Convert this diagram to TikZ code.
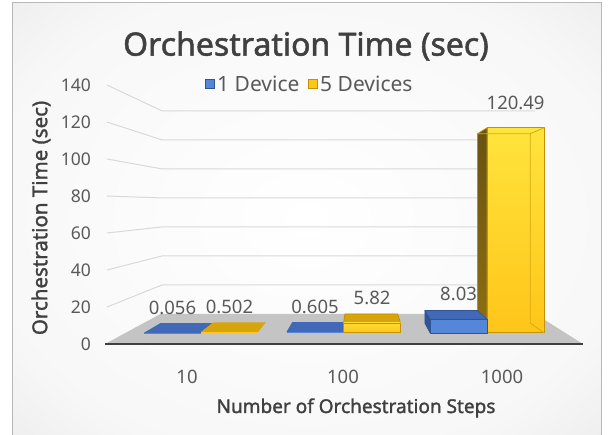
\documentclass[tikz,border=0pt]{standalone}
\usepackage{fontspec}
\setmainfont{Noto Sans}
\newfontfamily\headfont{Noto Sans}[FakeBold=1.6]
\usetikzlibrary{calc}

\definecolor{txtgray}{HTML}{595959}
\definecolor{titlegray}{HTML}{404040}
\definecolor{gridgray}{HTML}{D9D9D9}
\definecolor{floorgray}{HTML}{C4C4C4}
\definecolor{bluetop}{HTML}{4169B8}
\definecolor{bluefront}{HTML}{5686D8}
\definecolor{blueside}{HTML}{2E5597}
\definecolor{blueedge}{HTML}{2F5597}
\definecolor{goldtop}{HTML}{D8A40C}
\definecolor{goldfronttop}{HTML}{FFE43C}
\definecolor{goldfrontbot}{HTML}{FFC519}
\definecolor{goldside}{HTML}{7A6115}
\definecolor{goldedge}{HTML}{C39200}

\pgfdeclareradialshading{framebg}{\pgfpoint{0bp}{0bp}}{%
  color(0bp)=(white); color(28bp)=(white!97!black);
  color(50bp)=(black!13); color(72bp)=(black!20)}

% perspective: depth factors of column front/back and of the back wall
\def\kf{0.92}
\def\kb{0.85}
\def\kw{0.784}

% corner coordinates of one column: name, left X, right X, value
\newcommand\defcolumn[4]{%
  \coordinate (#1-flb) at ($(vp)!\kf!(#2,344)$);
  \coordinate (#1-frb) at ($(vp)!\kf!(#3,344)$);
  \coordinate (#1-flt) at ($(vp)!\kf!(#2,{344-1.85*#4})$);
  \coordinate (#1-frt) at ($(vp)!\kf!(#3,{344-1.85*#4})$);
  \coordinate (#1-blb) at ($(vp)!\kb!(#2,344)$);
  \coordinate (#1-brb) at ($(vp)!\kb!(#3,344)$);
  \coordinate (#1-blt) at ($(vp)!\kb!(#2,{344-1.85*#4})$);
  \coordinate (#1-brt) at ($(vp)!\kb!(#3,{344-1.85*#4})$);
  \coordinate (#1-lab) at ($(#1-flt)!0.5!(#1-frt)$);
}

\tikzset{
  grid/.style={draw=gridgray, line width=1pt},
  ticklabel/.style={text=txtgray, font=\fontsize{17.5}{20}\selectfont, inner sep=0pt},
  datalabel/.style={text=txtgray, font=\fontsize{18.5}{20}\selectfont, inner sep=0pt, yshift=25pt},
  legendlabel/.style={text=txtgray, font=\fontsize{21}{23}\selectfont, inner sep=0pt},
  axistitle/.style={text=titlegray, inner sep=0pt},
  legendbox/.style={minimum size=9pt, inner sep=0pt, line width=1pt},
  bluecol/.style={draw=blueedge, line width=0.6pt, line join=round},
  goldcol/.style={draw=goldedge, line width=0.8pt, line join=round},
}

\begin{document}
\begin{tikzpicture}[x=1pt,y=-1pt]
\useasboundingbox (0,0) rectangle (608,435);

% chart frame
\path[shading=framebg, draw=black!28, line width=1pt] (12,3) rectangle (601,436);

\coordinate (vp) at (361.6,205);

% floor
\coordinate (floor-fl) at (105,344);
\coordinate (floor-fr) at (583,344);
\coordinate (floor-bl) at ($(vp)!\kw!(floor-fl)$);
\coordinate (floor-br) at ($(vp)!\kw!(floor-fr)$);
\fill[floorgray] (floor-fl) -- (floor-fr) -- (floor-br) -- (floor-bl) -- cycle;
\draw[titlegray, line width=2pt] (floor-fl) -- (floor-fr);

% gridlines on the side and back walls, value labels
\foreach \v in {20,40,...,140}{
  \coordinate (g\v-f) at (107,{344-1.85*\v});
  \coordinate (g\v-b) at ($(vp)!\kw!(g\v-f)$);
  \coordinate (g\v-r) at ($(vp)!\kw!(583,{344-1.85*\v})$);
  \draw[grid] (g\v-f) -- (g\v-b) -- (g\v-r);
  \node[ticklabel, anchor=east] (ylab\v) at (91,{344-1.85*\v}) {\v};
}
\node[ticklabel, anchor=east] (ylab0) at (91,344) {0};

% column corners
\defcolumn{b1}{125}{187}{0.056}
\defcolumn{y1}{187}{249}{0.502}
\defcolumn{b2}{280}{342}{0.605}
\defcolumn{y2}{342}{404}{5.82}
\defcolumn{b3}{436}{498}{8.03}
\defcolumn{y3}{498}{560}{120.49}

% group 10
\fill[bluetop] (b1-flt) -- (b1-frt) -- (b1-brt) -- (b1-blt) -- cycle;
\fill[bluefront] (b1-flb) -- (b1-frb) -- (b1-frt) -- (b1-flt) -- cycle;
\fill[goldtop] (y1-flt) -- (y1-frt) -- (y1-brt) -- (y1-blt) -- cycle;
\fill[goldfrontbot] (y1-flb) -- (y1-frb) -- (y1-frt) -- (y1-flt) -- cycle;

% group 100
\fill[bluetop] (b2-flt) -- (b2-frt) -- (b2-brt) -- (b2-blt) -- cycle;
\fill[bluefront] (b2-flb) -- (b2-frb) -- (b2-frt) -- (b2-flt) -- cycle;
\filldraw[goldcol, fill=goldtop] (y2-flt) -- (y2-frt) -- (y2-brt) -- (y2-blt) -- cycle;
\shade[goldcol, top color=goldfronttop!70!goldfrontbot, bottom color=goldfrontbot]
  (y2-flb) -- (y2-frb) -- (y2-frt) -- (y2-flt) -- cycle;

% group 1000: tall column first, the short one stands in front of its side
\shade[goldcol, top color=goldside!85!black, bottom color=goldside!80!goldtop]
  (y3-flb) -- (y3-flt) -- (y3-blt) -- (y3-blb) -- cycle;
\shade[goldcol, top color=goldfronttop, bottom color=goldfrontbot]
  (y3-flb) -- (y3-frb) -- (y3-frt) -- (y3-flt) -- cycle;
\draw[goldedge!70!goldfronttop, line width=0.8pt, line join=round]
  (y3-blt) -- (y3-brt) -- (y3-brb) (y3-brt) -- (y3-frt) (y3-brb) -- (y3-frb);

\filldraw[bluecol, fill=blueside] (b3-flb) -- (b3-flt) -- (b3-blt) -- (b3-blb) -- cycle;
\filldraw[bluecol, fill=bluetop] (b3-flt) -- (b3-frt) -- (b3-brt) -- (b3-blt) -- cycle;
\filldraw[bluecol, fill=bluefront] (b3-flb) -- (b3-frb) -- (b3-frt) -- (b3-flt) -- cycle;

% value labels
\node[datalabel] (l-b1) at (b1-lab) {0.056};
\node[datalabel] (l-y1) at (y1-lab) {0.502};
\node[datalabel] (l-b2) at (b2-lab) {0.605};
\node[datalabel] (l-y2) at (y2-lab) {5.82};
\node[datalabel] (l-b3) at (b3-lab) {8.03};
\node[datalabel] (l-y3) at (y3-lab) {120.49};

% category labels
\node[ticklabel, font=\fontsize{18.5}{20}\selectfont] (cat10) at (187,377) {10};
\node[ticklabel, font=\fontsize{18.5}{20}\selectfont] (cat100) at (343,377) {100};
\node[ticklabel, font=\fontsize{18.5}{20}\selectfont] (cat1000) at (502,377) {1000};

% titles
\node[text=titlegray, font=\headfont\fontsize{32}{36}\selectfont, inner sep=0pt]
  (title) at (306,46) {Orchestration Time (sec)};
\node[axistitle, font=\headfont\fontsize{19}{22}\selectfont] (xtitle) at (356,408) {Number of Orchestration Steps};
\node[axistitle, font=\headfont\fontsize{20.5}{22}\selectfont, rotate=90] (ytitle) at (41,218) {Orchestration Time (sec)};

% legend
\node[legendbox, draw=blueedge, fill=bluefront] (leg1) at (210,84) {};
\node[legendlabel, anchor=west] (leg1t) at ($(leg1.east)+(2,0)$) {1 Device};
\node[legendbox, draw=goldedge, fill=goldfrontbot] (leg2) at (313,84) {};
\node[legendlabel, anchor=west] (leg2t) at ($(leg2.east)+(2,0)$) {5 Devices};
\end{tikzpicture}
\end{document}
